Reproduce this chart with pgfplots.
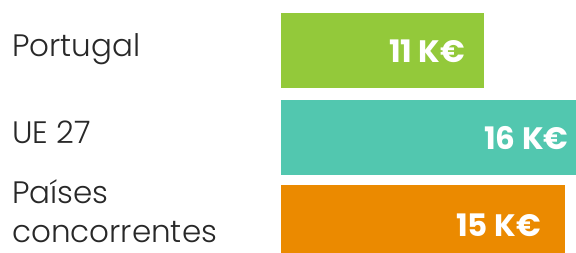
\documentclass[border=0pt]{standalone}
\usepackage{pgfplots}
\pgfplotsset{compat=1.18}
\usepackage{fontspec}
\setmainfont{Poppins}
\newfontfamily\lightfont{Poppins Light}
\definecolor{cgreen}{RGB}{147,201,58}
\definecolor{cteal}{RGB}{82,199,175}
\definecolor{corange}{RGB}{235,138,0}
\definecolor{ctext}{RGB}{40,40,40}
\begin{document}
\begin{tikzpicture}[x=1pt,y=1pt]
\useasboundingbox (0,0) rectangle (576,253);
\begin{axis}[
  at={(281pt,0pt)}, anchor=south west,
  scale only axis, width=295pt, height=253pt,
  xmin=0, xmax=16, ymin=0, ymax=253,
  hide axis, xbar, bar width=75, bar shift=0pt,
  clip=true,
]
\addplot[draw=none, fill=cgreen] coordinates {(11,202.5)};
\addplot[draw=none, fill=cteal] coordinates {(16,115.5)};
\addplot[draw=none, fill=corange] coordinates {(15.4,30.5)};
\node[anchor=base east, text=white, font=\fontsize{31}{32}\selectfont\bfseries, inner sep=0pt] at (axis cs:10.0,190) {11 K€};
\node[anchor=base east, text=white, font=\fontsize{31}{32}\selectfont\bfseries, inner sep=0pt] at (axis cs:15.6,103) {16 K€};
\node[anchor=base east, text=white, font=\fontsize{31}{32}\selectfont\bfseries, inner sep=0pt] at (axis cs:14.1,16) {15 K€};
\end{axis}
\node[anchor=base west, inner sep=0pt, text=ctext, font=\fontsize{31}{39}\selectfont\lightfont] at (12,196) {Portugal};
\node[anchor=base west, inner sep=0pt, text=ctext, font=\fontsize{31}{39}\selectfont\lightfont] at (12,109) {UE 27};
\node[anchor=base west, inner sep=0pt, text=ctext, font=\fontsize{31}{39}\selectfont\lightfont] at (12,49) {Países};
\node[anchor=base west, inner sep=0pt, text=ctext, font=\fontsize{31}{39}\selectfont\lightfont] at (12,10) {concorrentes};
\end{tikzpicture}
\end{document}
